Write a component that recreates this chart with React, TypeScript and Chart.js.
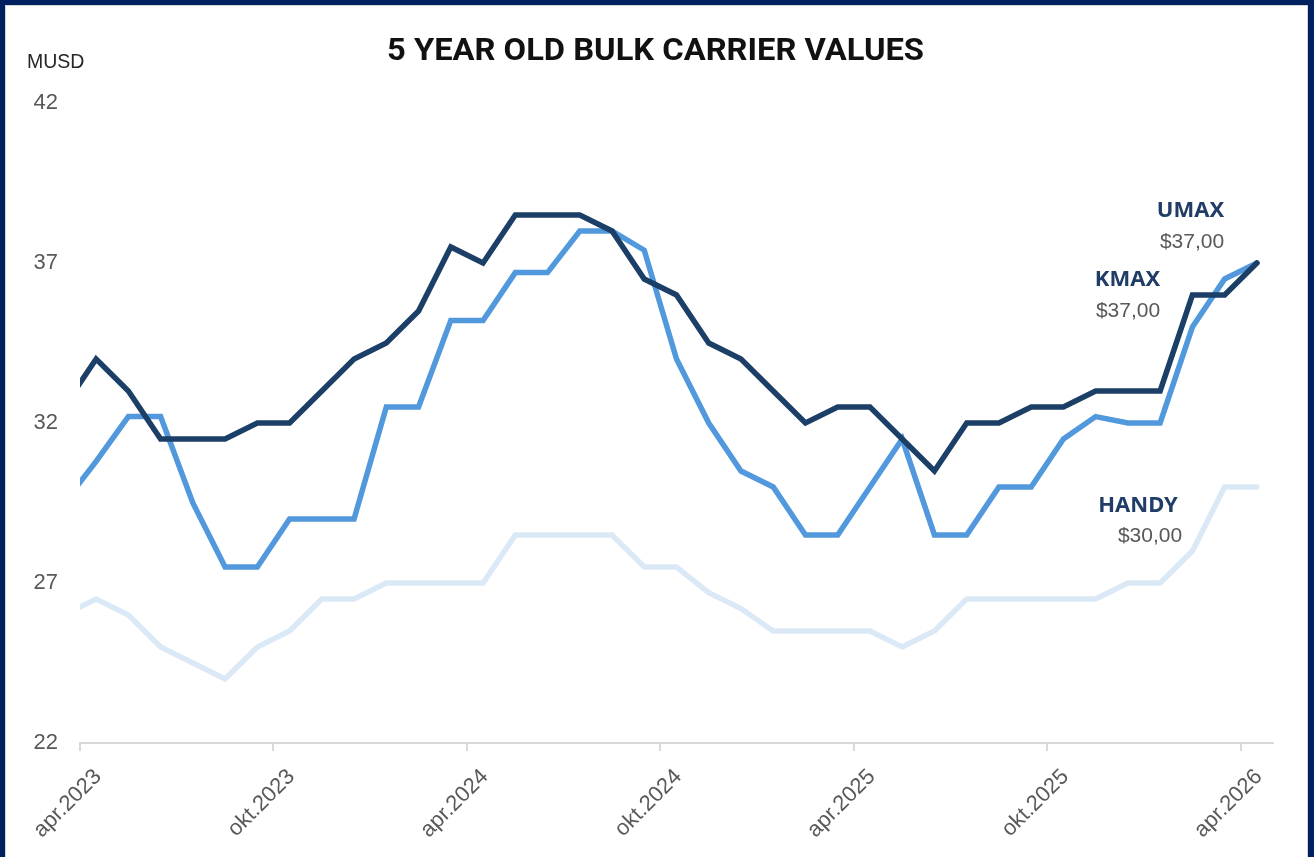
import { useEffect, useRef } from "react";
import { Chart, registerables } from "chart.js";

Chart.register(...registerables);

// Monthly observations (first one sits just left of the visible axis start)
const months = [
  "mar.2023", "apr.2023", "mai.2023", "jun.2023", "jul.2023", "aug.2023", "sep.2023", "okt.2023", "nov.2023", "des.2023",
  "jan.2024", "feb.2024", "mar.2024", "apr.2024", "mai.2024", "jun.2024", "jul.2024", "aug.2024", "sep.2024", "okt.2024", "nov.2024", "des.2024",
  "jan.2025", "feb.2025", "mar.2025", "apr.2025", "mai.2025", "jun.2025", "jul.2025", "aug.2025", "sep.2025", "okt.2025", "nov.2025", "des.2025",
  "jan.2026", "feb.2026", "mar.2026", "apr.2026",
];

const umax = [
  32.5, 34.0, 33.0, 31.5, 31.5, 31.5, 32.0, 32.0, 33.0, 34.0,
  34.5, 35.5, 37.5, 37.0, 38.5, 38.5, 38.5, 38.0, 36.5, 36.0, 34.5, 34.0,
  33.0, 32.0, 32.5, 32.5, 31.5, 30.5, 32.0, 32.0, 32.5, 32.5, 33.0, 33.0,
  33.0, 36.0, 36.0, 37.0,
];

const kmax = [
  29.5, 30.8, 32.2, 32.2, 29.5, 27.5, 27.5, 29.0, 29.0, 29.0,
  32.5, 32.5, 35.2, 35.2, 36.7, 36.7, 38.0, 38.0, 37.4, 34.0, 32.0, 30.5,
  30.0, 28.5, 28.5, 30.0, 31.5, 28.5, 28.5, 30.0, 30.0, 31.5, 32.2, 32.0,
  32.0, 35.0, 36.5, 37.0,
];

const handy = [
  26.0, 26.5, 26.0, 25.0, 24.5, 24.0, 25.0, 25.5, 26.5, 26.5,
  27.0, 27.0, 27.0, 27.0, 28.5, 28.5, 28.5, 28.5, 27.5, 27.5, 26.7, 26.2,
  25.5, 25.5, 25.5, 25.5, 25.0, 25.5, 26.5, 26.5, 26.5, 26.5, 26.5, 27.0,
  27.0, 28.0, 30.0, 30.0,
];

// Axis tick labels (every 6 months, starting at apr.2023)
const xTickLabels = ["apr.2023", "okt.2023", "apr.2024", "okt.2024", "apr.2025", "okt.2025", "apr.2026"];
const yTicks = [22, 27, 32, 37, 42];

const seriesNames = ["UMAX", "KMAX", "HANDY"];
const seriesColors = ["#1b3f66", "#5199dc", "#dbe9f7"];

const fmt = (v: number) => "$" + v.toFixed(2).replace(".", ",");

const toPoints = (vals: number[]) => vals.map((y, i) => ({ x: i - 0.5, y }));

export default function App() {
  const ref = useRef<HTMLCanvasElement | null>(null);

  useEffect(() => {
    const canvas = ref.current;
    if (!canvas) return;

    const textPlugin = {
      id: "texts",
      afterDraw(chart: any) {
        const ctx = chart.ctx as CanvasRenderingContext2D;
        ctx.save();
        // Title
        ctx.fillStyle = "#111111";
        ctx.font = "700 32px Roboto";
        ctx.textAlign = "center";
        ctx.textBaseline = "alphabetic";
        const title = "5 YEAR OLD BULK CARRIER VALUES";
        const w = ctx.measureText(title).width;
        ctx.save();
        ctx.translate(655.5, 60);
        ctx.scale(537 / w, 1);
        ctx.fillText(title, 0, 0);
        ctx.restore();

        // Unit label
        ctx.fillStyle = "#262626";
        ctx.font = "19.5px 'Liberation Sans'";
        ctx.textAlign = "left";
        ctx.fillText("MUSD", 27, 68);

        // End-of-series annotations
        const last = [umax[umax.length - 1], kmax[kmax.length - 1], handy[handy.length - 1]];
        const pos = [
          { nx: 1190.5, ny: 217, vx: 1192, vy: 248 },
          { nx: 1127.5, ny: 286, vx: 1128, vy: 317 },
          { nx: 1138, ny: 512, vx: 1150, vy: 542 },
        ];
        ctx.textAlign = "center";
        pos.forEach((p, i) => {
          ctx.fillStyle = "#1f3d66";
          ctx.font = "700 22px 'Noto Sans'";
          ctx.fillText(seriesNames[i], p.nx, p.ny);
          ctx.fillStyle = "#595959";
          ctx.font = "21px 'Liberation Sans'";
          ctx.fillText(fmt(last[i]), p.vx, p.vy);
        });
        ctx.restore();
      },
    };

    const chart = new Chart(canvas, {
      type: "line",
      data: {
        labels: months,
        datasets: [umax, kmax, handy].map((vals, i) => ({
          label: seriesNames[i],
          data: toPoints(vals),
          borderColor: seriesColors[i],
          backgroundColor: seriesColors[i],
          borderWidth: 5.5,
          pointRadius: 0,
          tension: 0,
          borderCapStyle: "round" as const,
          borderJoinStyle: "miter" as const,
        })),
      },
      options: {
        responsive: false,
        animation: false,
        events: [],
        layout: { padding: { left: 0, top: 103, right: 41, bottom: 0 } },
        plugins: {
          legend: { display: false },
          tooltip: { enabled: false },
          title: { display: false },
        },
        scales: {
          x: {
            type: "linear",
            min: 0,
            max: 37,
            afterBuildTicks: (scale: any) => {
              scale.ticks = xTickLabels.map((_, i) => ({ value: i * 6 }));
            },
            afterFit: (scale: any) => {
              scale.height = 114;
            },
            ticks: {
              autoSkip: false,
              minRotation: 45,
              maxRotation: 45,
              color: "#595959",
              font: { family: "'Liberation Sans'", size: 22 },
              padding: 13,
              labelOffset: 18,
              callback: (v: any) => xTickLabels[Math.round(Number(v) / 6)] ?? "",
            },
            grid: {
              display: true,
              drawOnChartArea: false,
              drawTicks: true,
              tickLength: 8,
              color: "#d9d9d9",
              lineWidth: 2,
            },
            border: { display: true, color: "#d9d9d9", width: 2 },
          },
          y: {
            min: 22,
            max: 42,
            afterBuildTicks: (scale: any) => {
              scale.ticks = yTicks.map((v) => ({ value: v }));
            },
            afterFit: (scale: any) => {
              scale.width = 80;
            },
            ticks: {
              color: "#595959",
              font: { family: "'Liberation Sans'", size: 22 },
              padding: 22,
            },
            grid: { display: false, drawTicks: false },
            border: { display: false },
          },
        },
      },
      plugins: [textPlugin],
    });

    return () => chart.destroy();
  }, []);

  return (
    <div
      style={{
        position: "fixed",
        left: 0,
        top: 0,
        width: 1314,
        height: 857,
        background: "#00205f",
        overflow: "hidden",
      }}
    >
      <div
        style={{
          position: "absolute",
          left: 5,
          top: 5,
          width: 1301,
          height: 852,
          background: "#ffffff",
          border: "1px solid #d4d4d4",
        }}
      />
      <canvas
        ref={ref}
        width={1314}
        height={857}
        style={{ position: "absolute", left: 0, top: 0, width: 1314, height: 857 }}
      />
    </div>
  );
}
